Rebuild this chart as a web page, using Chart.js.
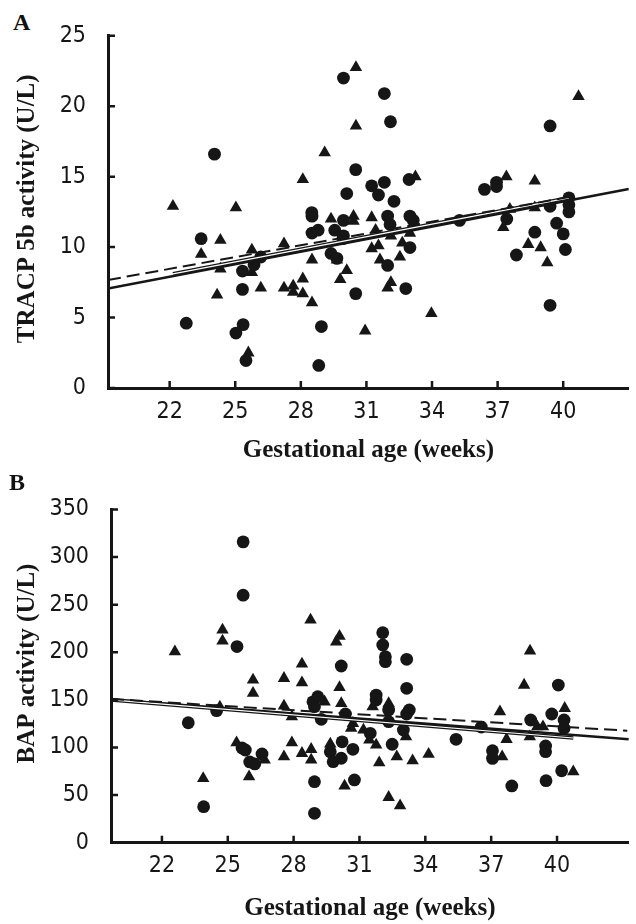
<!DOCTYPE html>
<html>
<head>
<meta charset="utf-8">
<script src="https://cdn.jsdelivr.net/npm/chart.js@4.4.1/dist/chart.umd.min.js"></script>
<style>
  html, body { margin: 0; padding: 0; background: #fff; }
  #wrap { position: relative; width: 636px; height: 924px; overflow: hidden; background: #fff; }
  canvas { position: absolute; left: 0; }
  .panel-label { position: absolute; font: bold 24px "Liberation Serif", "Times New Roman", serif; line-height: 24px; color: #111; }
</style>
</head>
<body>
<div id="wrap">
  <div class="panel-label" style="left:13px;top:10px">A</div>
  <canvas id="chartA" width="636" height="470" style="top:0"></canvas>
  <div class="panel-label" style="left:9px;top:470px">B</div>
  <canvas id="chartB" width="636" height="454" style="top:470px"></canvas>
</div>
<script>
// tick positions
const weekTicks = [22, 25, 28, 31, 34, 37, 40];
const tracpTicks = [0, 5, 10, 15, 20, 25];
const bapTicks = [0, 50, 100, 150, 200, 250, 300, 350];

// panel A: TRACP 5b (circles / triangles)
const tracpCircleWeeks = [24.05, 22.76, 23.44, 25.33, 25.33, 25.36, 25.03, 25.49, 26.17, 25.86, 28.51, 28.5, 28.51, 28.79, 28.82, 28.94, 29.55, 29.38, 29.65, 29.95, 29.95, 29.92, 29.95, 30.1, 30.51, 30.51, 31.24, 31.55, 31.82, 31.82, 32.1, 31.97, 32.08, 31.97, 32.26, 32.8, 32.95, 32.99, 33.14, 32.99, 35.26, 36.4, 36.95, 36.95, 37.42, 39.4, 38.7, 37.86, 39.4, 39.7, 40.0, 40.1, 39.4, 40.26, 40.26, 40.26];
const tracpCircleValues = [16.6, 4.6, 10.6, 8.3, 7.0, 4.5, 3.9, 1.95, 9.3, 8.75, 12.2, 12.45, 11.0, 11.2, 1.6, 4.36, 11.2, 9.55, 9.2, 22.0, 11.9, 10.6, 10.8, 13.8, 15.5, 6.7, 14.35, 13.7, 14.6, 20.9, 18.9, 12.2, 11.6, 8.7, 13.25, 7.06, 14.8, 12.2, 11.9, 9.97, 11.9, 14.1, 14.6, 14.3, 12.0, 18.6, 11.06, 9.44, 12.9, 11.7, 10.94, 9.83, 5.87, 13.5, 13.0, 12.5];
const tracpTriangleWeeks = [22.15, 25.03, 24.32, 23.44, 25.76, 27.23, 24.32, 25.76, 24.17, 26.17, 27.23, 27.65, 27.65, 28.09, 28.09, 28.51, 25.6, 28.09, 29.09, 30.52, 30.52, 28.51, 29.38, 30.41, 30.41, 31.24, 31.42, 32.12, 32.99, 29.8, 30.1, 29.65, 31.24, 31.55, 32.64, 32.53, 31.62, 32.12, 31.97, 33.97, 30.94, 33.24, 37.4, 38.7, 40.7, 37.56, 37.26, 38.7, 38.4, 38.97, 39.27];
const tracpTriangleValues = [12.9, 12.8, 10.5, 9.5, 9.8, 10.25, 8.45, 8.2, 6.6, 7.1, 7.1, 7.25, 6.8, 6.7, 7.75, 6.05, 2.5, 14.8, 16.7, 22.75, 18.6, 9.1, 12.0, 12.2, 11.85, 12.1, 11.2, 10.8, 11.0, 7.7, 8.35, 9.1, 9.9, 10.1, 10.3, 9.3, 9.1, 7.5, 7.1, 5.3, 4.06, 15.0, 15.0, 14.7, 20.7, 12.7, 11.4, 12.8, 10.2, 9.97, 8.9];
// regression lines (end points)
const tracpSolidWeeks = [19.18, 43.0];
const tracpSolidValues = [7.06, 14.13];
const tracpDashWeeks = [19.18, 40.26];
const tracpDashValues = [7.67, 13.55];
const tracpDoubleWeeks = [22.15, 40.26];
const tracpDoubleValues = [8.1, 13.5];

// panel B: BAP
const bapCircleWeeks = [25.7, 25.7, 25.42, 24.49, 23.2, 25.8, 25.65, 26.56, 26.23, 26.0, 23.9, 28.88, 29.1, 28.95, 29.26, 28.95, 28.95, 29.67, 29.8, 30.17, 30.36, 30.21, 30.17, 30.7, 30.77, 31.49, 31.76, 31.76, 32.06, 32.06, 32.18, 32.18, 32.33, 32.33, 32.49, 33.15, 33.15, 33.27, 33.15, 33.0, 35.4, 36.55, 37.06, 37.06, 37.94, 38.8, 40.06, 39.76, 40.32, 40.32, 39.48, 39.48, 39.5, 40.21];
const bapCircleValues = [316, 260, 206, 138.7, 126, 97.4, 99.5, 93.2, 82.7, 84.8, 37.8, 148, 153.4, 142.9, 129.6, 64.1, 30.9, 95.6, 85.1, 185.6, 135.2, 106, 88.7, 98.1, 65.9, 114.9, 155.1, 149.9, 220.6, 207.7, 195.4, 190.1, 139.4, 127.1, 103.4, 192.6, 162.2, 139.4, 135.2, 118.4, 108.6, 121.5, 96.6, 88.6, 59.6, 128.9, 165.6, 135.2, 128.9, 120.2, 101.6, 95.6, 65.1, 75.6];
const bapTriangleWeeks = [22.59, 24.76, 24.76, 24.64, 26.15, 26.15, 27.56, 27.56, 27.92, 28.38, 28.38, 28.77, 25.4, 26.68, 25.97, 23.88, 27.56, 27.92, 28.38, 28.8, 28.8, 29.41, 30.09, 29.94, 30.09, 30.17, 30.7, 30.62, 31.18, 31.45, 31.76, 31.6, 32.33, 33.12, 29.67, 31.9, 32.7, 33.42, 34.15, 30.32, 32.33, 32.85, 38.77, 38.5, 37.4, 37.7, 37.5, 38.76, 39.1, 39.36, 40.35, 40.74];
const bapTriangleValues = [200.6, 223.4, 211.9, 142.5, 170.9, 157, 172.7, 143.6, 132.4, 187.7, 168, 234, 105, 86.9, 69.3, 67.6, 90.3, 105, 93.9, 98.1, 86.9, 148, 217, 211, 163.2, 146.4, 125.4, 120.2, 118.4, 107.9, 102.6, 142.8, 146.4, 111.3, 103.7, 84, 90.3, 86.1, 92.9, 59.6, 47.7, 38.9, 201.4, 165.6, 137.6, 108.6, 90.3, 111.3, 121.9, 121.9, 141.2, 74.6];
const bapSolidWeeks = [19.68, 43.27];
const bapSolidValues = [150.5, 108.6];
const bapDashWeeks = [19.68, 43.2];
const bapDashValues = [151, 117.6];
const bapDoubleWeeks = [19.68, 40.74];
const bapDoubleValues = [150, 110];

const INK = '#161616';
const tickFont = { family: '"Liberation Sans Narrow", "DejaVu Sans Condensed", "Liberation Sans", sans-serif', size: 23 };
const titleFont = { family: '"Liberation Serif", "Times New Roman", serif', size: 25, weight: 'bold' };

const toPoints = (xs, ys) => xs.map((x, i) => ({ x: x, y: ys[i] }));

// short inward tick marks, like the original Excel axes
const innerTicks = {
  id: 'innerTicks',
  afterDraw(chart) {
    const { ctx, chartArea, scales } = chart;
    ctx.save();
    ctx.strokeStyle = INK;
    ctx.lineWidth = 2.5;
    ctx.beginPath();
    scales.x.ticks.forEach(t => {
      const px = scales.x.getPixelForValue(t.value);
      ctx.moveTo(px, chartArea.bottom);
      ctx.lineTo(px, chartArea.bottom - 7);
    });
    scales.y.ticks.forEach(t => {
      const py = scales.y.getPixelForValue(t.value);
      ctx.moveTo(chartArea.left, py);
      ctx.lineTo(chartArea.left + 7, py);
    });
    ctx.stroke();
    ctx.restore();
  }
};

function lineSet(xs, ys, width, color, dash) {
  return {
    data: toPoints(xs, ys),
    showLine: true,
    borderColor: color,
    borderWidth: width,
    borderDash: dash || [],
    pointRadius: 0,
    fill: false
  };
}

function makeChart(id, cfg) {
  return new Chart(document.getElementById(id), {
    type: 'scatter',
    data: {
      datasets: [
        lineSet(cfg.dashX, cfg.dashY, 2, INK, [13, 6]),
        lineSet(cfg.doubleX, cfg.doubleY, 1.2, '#fff'),
        lineSet(cfg.doubleX, cfg.doubleY, 3.6, INK),
        lineSet(cfg.solidX, cfg.solidY, 2.6, INK),
        { data: toPoints(cfg.circX, cfg.circY), pointStyle: 'circle', pointRadius: 6.4, backgroundColor: INK, borderColor: INK, borderWidth: 0 },
        { data: toPoints(cfg.triX, cfg.triY), pointStyle: 'triangle', pointRadius: 7.2, backgroundColor: INK, borderColor: INK, borderWidth: 0 }
      ]
    },
    options: {
      responsive: false,
      animation: false,
      events: [],
      layout: { padding: cfg.padding },
      plugins: { legend: { display: false }, tooltip: { enabled: false } },
      scales: {
        x: {
          type: 'linear',
          min: cfg.xMin,
          max: cfg.xMax,
          afterBuildTicks: s => { s.ticks = weekTicks.map(v => ({ value: v })); },
          afterFit: s => { s.height = cfg.xHeight; },
          grid: { display: false, drawTicks: false },
          border: { display: true, color: INK, width: 3 },
          ticks: { font: tickFont, color: INK, padding: 10, maxRotation: 0, autoSkip: false },
          title: { display: true, text: 'Gestational age (weeks)', font: titleFont, color: INK, padding: { top: 4, bottom: cfg.xTitlePad } }
        },
        y: {
          min: 0,
          max: cfg.yTicks[cfg.yTicks.length - 1],
          afterBuildTicks: s => { s.ticks = cfg.yTicks.map(v => ({ value: v })); },
          afterFit: s => { s.width = cfg.yWidth; },
          grid: { display: false, drawTicks: false },
          border: { display: true, color: INK, width: 3 },
          ticks: { font: tickFont, color: INK, padding: 22 },
          title: { display: true, text: cfg.yTitle, font: titleFont, color: INK, padding: { top: 4, bottom: 4 } }
        }
      }
    },
    plugins: [innerTicks]
  });
}

makeChart('chartA', {
  circX: tracpCircleWeeks, circY: tracpCircleValues,
  triX: tracpTriangleWeeks, triY: tracpTriangleValues,
  solidX: tracpSolidWeeks, solidY: tracpSolidValues,
  dashX: tracpDashWeeks, dashY: tracpDashValues,
  doubleX: tracpDoubleWeeks, doubleY: tracpDoubleValues,
  xMin: 19.18, xMax: 43.0,
  yTicks: tracpTicks,
  yTitle: '\u00a0TRACP 5b activity (U/L)',
  padding: { top: 27, right: 4, left: 9, bottom: 0 },
  xHeight: 82, yWidth: 99, xTitlePad: 4
});

makeChart('chartB', {
  circX: bapCircleWeeks, circY: bapCircleValues,
  triX: bapTriangleWeeks, triY: bapTriangleValues,
  solidX: bapSolidWeeks, solidY: bapSolidValues,
  dashX: bapDashWeeks, dashY: bapDashValues,
  doubleX: bapDoubleWeeks, doubleY: bapDoubleValues,
  xMin: 19.68, xMax: 43.27,
  yTicks: bapTicks,
  yTitle: '\u00a0\u00a0\u00a0\u00a0BAP activity (U/L)',
  padding: { top: 39.5, right: 6, left: 9, bottom: 0 },
  xHeight: 81.3, yWidth: 102, xTitlePad: 0
});
</script>
</body>
</html>
